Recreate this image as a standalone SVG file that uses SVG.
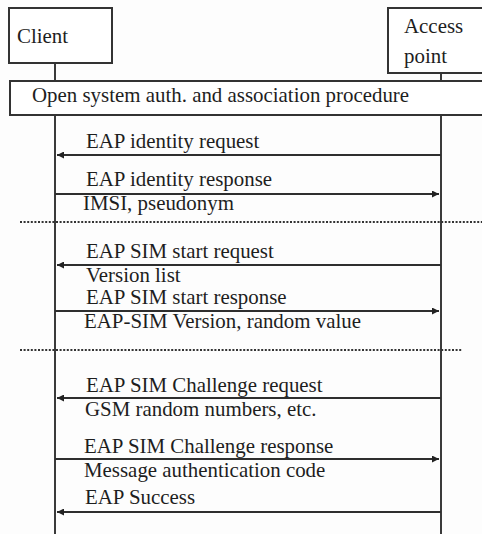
<svg xmlns="http://www.w3.org/2000/svg" width="482" height="534" viewBox="0 0 482 534">
<defs>
<style>
.t{font-family:"Liberation Serif","Times New Roman","DejaVu Serif",serif;font-size:20.9px;fill:#1e1e1e}
.box{fill:#fff;stroke:#333;stroke-width:2}
.life{stroke:#3a3a3a;stroke-width:2;fill:none}
.msg{stroke:#2e2e2e;stroke-width:2;fill:none}
.dot{stroke:#333;stroke-width:2.2;stroke-dasharray:2 1.6;fill:none}
</style>
<marker id="ah" viewBox="0 0 10 10" refX="10" refY="5" markerWidth="9" markerHeight="7" markerUnits="userSpaceOnUse" orient="auto">
<path d="M0,0 L10,5 L0,10 z" fill="#222"/>
</marker>
</defs>
<rect width="482" height="534" fill="#fdfdfd"/>
<g id="lifelines">
<line class="life" x1="55" y1="60" x2="55" y2="534"/>
<line class="life" x1="441" y1="70" x2="441" y2="534"/>
</g>
<g id="client">
<rect class="box" x="9" y="8" width="103" height="55"/>
<text class="t" x="17" y="43">Client</text>
</g>
<g id="access-point">
<rect class="box" x="388" y="8" width="100" height="65"/>
<text class="t" x="404" y="33">Access</text>
<text class="t" x="404" y="63">point</text>
</g>
<g id="open-system">
<rect class="box" x="10" y="81" width="478" height="34"/>
<text class="t" x="32" y="102">Open system auth. and association procedure</text>
</g>
<g id="separators">
<line class="dot" x1="20" y1="222" x2="482" y2="222"/>
<line class="dot" x1="20" y1="350" x2="462" y2="350"/>
</g>
<g id="connectors">
<line class="msg" x1="441" y1="155" x2="57" y2="155" marker-end="url(#ah)"/>
<line class="msg" x1="55" y1="194" x2="439" y2="194" marker-end="url(#ah)"/>
<line class="msg" x1="441" y1="265" x2="57" y2="265" marker-end="url(#ah)"/>
<line class="msg" x1="55" y1="311" x2="439" y2="311" marker-end="url(#ah)"/>
<line class="msg" x1="441" y1="398" x2="57" y2="398" marker-end="url(#ah)"/>
<line class="msg" x1="55" y1="459" x2="439" y2="459" marker-end="url(#ah)"/>
<line class="msg" x1="441" y1="512" x2="57" y2="512" marker-end="url(#ah)"/>
</g>
<g id="labels">
<text class="t" x="86" y="148">EAP identity request</text>
<text class="t" x="86" y="186">EAP identity response</text>
<text class="t" x="83" y="210">IMSI, pseudonym</text>
<text class="t" x="86" y="258">EAP SIM start request</text>
<text class="t" x="86" y="282">Version list</text>
<text class="t" x="86" y="304">EAP SIM start response</text>
<text class="t" x="84" y="328">EAP-SIM Version, random value</text>
<text class="t" x="86" y="392">EAP SIM Challenge request</text>
<text class="t" x="85" y="416">GSM random numbers, etc.</text>
<text class="t" x="84" y="453">EAP SIM Challenge response</text>
<text class="t" x="84" y="477">Message authentication code</text>
<text class="t" x="85" y="504">EAP Success</text>
</g>
</svg>
